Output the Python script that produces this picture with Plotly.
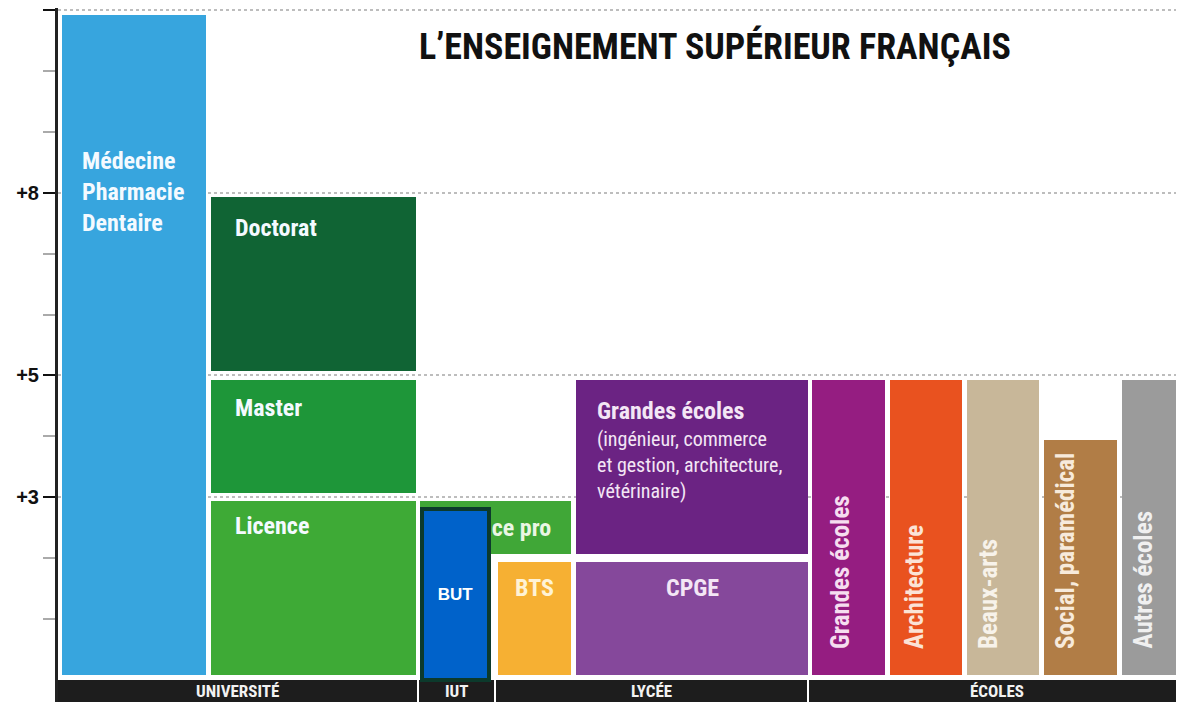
import plotly.graph_objects as go

# ---------------- data ----------------
box_labels = ["Médecine<br>Pharmacie<br>Dentaire", "Doctorat", "Master", "Licence", "Licence pro",
              "BTS", "Grandes écoles", "CPGE", "Grandes écoles", "Architecture",
              "Beaux-arts", "Social, paramédical", "Autres écoles"]
year_start = [0, 5, 3, 0, 2, 0, 2, 0, 0, 0, 0, 0, 0]
year_end = [11, 8, 5, 3, 3, 2, 5, 2, 5, 5, 5, 4, 5]

but_label = "BUT"
but_start = 0
but_end = 2.8

groups = ["UNIVERSITÉ", "IUT", "LYCÉE", "ÉCOLES"]

tick_years = [3, 5, 8, 11]
tick_text = ["+3", "+5", "+8", ""]
minor_years = [1, 2, 4, 6, 7, 9, 10]

title_text = "L’ENSEIGNEMENT SUPÉRIEUR FRANÇAIS"
ge_sub = "(ingénieur, commerce<br>et gestion, architecture,<br>vétérinaire)"

# ---------------- layout (positions / styles) ----------------
box_x0 = [4, 153, 153, 153, 362, 440, 518, 518, 754, 832, 909, 986, 1064]
box_x1 = [148, 358, 358, 358, 513, 513, 750, 750, 827, 904, 981, 1059, 1150]
box_colors = ["#37A5DE", "#106434", "#1E9639", "#3EAA36", "#40A737", "#F6B033",
              "#6B2383", "#85489B", "#951D81", "#E9521F", "#C8B799", "#B17D46", "#9B9B9B"]
but_x0, but_x1 = 364, 431
band_x0 = [0, 361, 438, 751]
band_x1 = [359, 436, 749, 1150]
gy = 0.07

COND = "Roboto Condensed, Liberation Sans Narrow, DejaVu Sans Condensed, Arial Narrow, sans-serif"
LBL = 24

fig = go.Figure()

# bottom band
fig.add_trace(go.Bar(
    x=[(a + b) / 2 for a, b in zip(band_x0, band_x1)],
    width=[b - a for a, b in zip(band_x0, band_x1)],
    base=[-0.5] * len(groups), y=[0.5] * len(groups),
    marker=dict(color="#1D1D1D", line=dict(width=0)),
    hoverinfo="skip", showlegend=False))

# boxes
bases = [s + (gy if s > 0 else 0.08) for s in year_start]
heights = [e - b - gy for e, b in zip(year_end, bases)]
box_text = ["" for _ in box_labels]
box_text[4] = box_labels[4]
fig.add_trace(go.Bar(
    x=[(a + b) / 2 for a, b in zip(box_x0, box_x1)],
    width=[b - a for a, b in zip(box_x0, box_x1)],
    base=bases, y=heights,
    marker=dict(color=box_colors, line=dict(width=0)),
    text=box_text, textposition="inside", insidetextanchor="middle",
    textfont=dict(family=COND, size=LBL, color="#EAF6E4", weight="bold"),
    textangle=0, hoverinfo="skip", showlegend=False))

# BUT overlay
fig.add_trace(go.Bar(
    x=[(but_x0 + but_x1) / 2], width=[but_x1 - but_x0],
    base=[but_start], y=[but_end - but_start],
    marker=dict(color="#0062CA", line=dict(color="#0C3A2C", width=4)),
    text=[but_label], textposition="inside", insidetextanchor="middle",
    textfont=dict(family="Liberation Sans, Arial, sans-serif", size=17, color="white", weight="bold"),
    textangle=0, hoverinfo="skip", showlegend=False))

ann = []
# left aligned labels
left_specs = [(0, 18, 8.01), (1, 22, 7.42), (2, 22, 4.47), (3, 22, 2.52)]
for i, dx, yc in left_specs:
    ann.append(dict(x=box_x0[i] + dx, y=yc, xref="x", yref="y", text=box_labels[i],
                    showarrow=False, xanchor="left", yanchor="middle", align="left",
                    font=dict(family=COND, size=LBL, color="#F4FAFF", weight="bold")))
# lycée grandes écoles
ann.append(dict(x=box_x0[6] + 19, y=4.41, xref="x", yref="y", text=box_labels[6],
                showarrow=False, xanchor="left", yanchor="middle", align="left",
                font=dict(family=COND, size=LBL, color="#F3E6F5", weight="bold")))
ann.append(dict(x=box_x0[6] + 19, y=3.52, xref="x", yref="y", text=ge_sub,
                showarrow=False, xanchor="left", yanchor="middle", align="left",
                font=dict(family=COND, size=20, color="#F3E6F5")))
# centered BTS / CPGE
for i, col in [(5, "#FFF3D6"), (7, "#F3E6F5")]:
    ann.append(dict(x=(box_x0[i] + box_x1[i]) / 2, y=1.51, xref="x", yref="y", text=box_labels[i],
                    showarrow=False, xanchor="center", yanchor="middle",
                    font=dict(family=COND, size=LBL, color=col, weight="bold")))
# rotated école labels
rot_cols = ["#F6DDF0", "#FBE3D6", "#F7F2EA", "#F7EADB", "#F0F0F0"]
rot_dx = [29, 25, 22, 22, 21]
for k, i in enumerate(range(8, 13)):
    ann.append(dict(x=box_x0[i] + rot_dx[k], y=0.47, xref="x", yref="y", text=box_labels[i],
                    showarrow=False, xanchor="center", yanchor="bottom", textangle=-90,
                    font=dict(family=COND, size=25, color=rot_cols[k], weight="bold")))
# band labels
for g, a, b in zip(groups, band_x0, band_x1):
    ann.append(dict(x=(a + min(b, 1126)) / 2, y=-0.19, xref="x", yref="y", text=g,
                    showarrow=False, xanchor="center", yanchor="middle",
                    font=dict(family=COND, size=17, color="#F2F2F2", weight="bold")))
# title
ann.append(dict(x=657, y=10.41, xref="x", yref="y", text=title_text, showarrow=False,
                xanchor="center", yanchor="middle",
                font=dict(family=COND, size=36, color="#111111", weight="bold")))

# page body adds an 8px offset; plot area is sized so that it fills the window
fig.update_layout(
    width=1176, height=702, margin=dict(l=50, r=0, t=0, b=8),
    paper_bgcolor="white", plot_bgcolor="white", barmode="overlay", bargap=0,
    showlegend=False, annotations=ann,
    xaxis=dict(range=[0, 1126], visible=False, fixedrange=True),
    yaxis=dict(range=[-0.37, 11.04], tickvals=tick_years, ticktext=tick_text,
               ticks="outside", ticklen=12, tickwidth=2, tickcolor="#111111",
               tickfont=dict(family="Liberation Sans, Arial, sans-serif", size=20, color="#111111", weight="bold"),
               showline=True, linecolor="#222222", linewidth=3,
               showgrid=True, gridcolor="#BDBDBD", griddash="dot", gridwidth=1.5,
               zeroline=False, fixedrange=True,
               minor=dict(tickvals=minor_years, ticks="outside", ticklen=12, tickwidth=2,
                          tickcolor="#AAAAAA", showgrid=False)),
)

fig.write_html("out.html")
